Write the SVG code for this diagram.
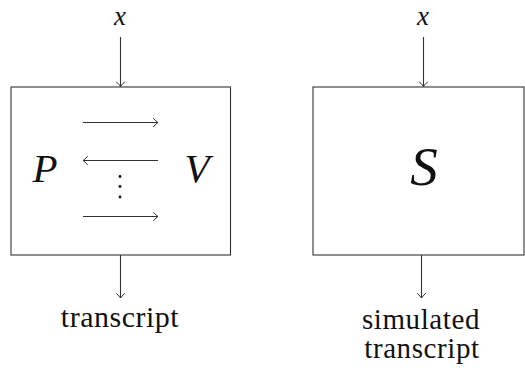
<svg xmlns="http://www.w3.org/2000/svg" width="525" height="371" viewBox="0 0 525 371">
<style>
.box{fill:none;stroke:#333;stroke-width:1.1}
.dot{fill:#111}
.lbl{font-family:"Liberation Serif",serif;fill:#111}
.var{font-family:"Liberation Serif",serif;font-style:italic;fill:#111}
</style>
<defs>
<marker id="ah" markerWidth="10" markerHeight="10" refX="0" refY="0" viewBox="-6 -5 8 10" markerUnits="userSpaceOnUse" orient="auto" overflow="visible">
<path d="M -4.5 -4 Q -1.5 -1 0 0 Q -1.5 1 -4.5 4" fill="none" stroke="#333" stroke-width="1" stroke-linecap="round"/>
</marker>
</defs>
<g id="node-pv">
<rect class="box" x="11" y="87" width="219.5" height="168"/>
<text class="var" x="45" y="182" font-family="Liberation Serif" font-size="41" text-anchor="middle">P</text>
<text class="var" x="197" y="182" font-family="Liberation Serif" font-size="41" text-anchor="middle">V</text>
<circle class="dot" cx="120" cy="176.5" r="1.4"/>
<circle class="dot" cx="120" cy="186.5" r="1.4"/>
<circle class="dot" cx="120" cy="197" r="1.4"/>
</g>
<g id="node-s">
<rect class="box" x="313" y="87" width="211" height="168"/>
<text class="var" x="424" y="185" font-family="Liberation Serif" font-size="55" text-anchor="middle">S</text>
</g>
<g id="labels">
<text class="var" x="120" y="25" font-family="Liberation Serif" font-size="27" text-anchor="middle">x</text>
<text class="var" x="423" y="25" font-family="Liberation Serif" font-size="27" text-anchor="middle">x</text>
<text class="lbl" x="120" y="327" font-family="Liberation Serif" font-size="30" letter-spacing="0.5" text-anchor="middle">transcript</text>
<text class="lbl" x="421" y="329" font-family="Liberation Serif" font-size="29" letter-spacing="0.6" text-anchor="middle">simulated</text>
<text class="lbl" x="422" y="358" font-family="Liberation Serif" font-size="29" letter-spacing="0.6" text-anchor="middle">transcript</text>
</g>
<g id="connectors" fill="none" stroke="#333" stroke-width="1.1">
<line x1="120.5" y1="37" x2="120.5" y2="86.5" marker-end="url(#ah)"/>
<line x1="423.5" y1="37" x2="423.5" y2="86.5" marker-end="url(#ah)"/>
<line x1="120.5" y1="255" x2="120.5" y2="298" marker-end="url(#ah)"/>
<line x1="421.5" y1="255" x2="421.5" y2="298" marker-end="url(#ah)"/>
<line x1="83" y1="122.5" x2="158" y2="122.5" marker-end="url(#ah)"/>
<line x1="158" y1="160.5" x2="83" y2="160.5" marker-end="url(#ah)"/>
<line x1="83" y1="216.5" x2="158" y2="216.5" marker-end="url(#ah)"/>
</g>
</svg>
